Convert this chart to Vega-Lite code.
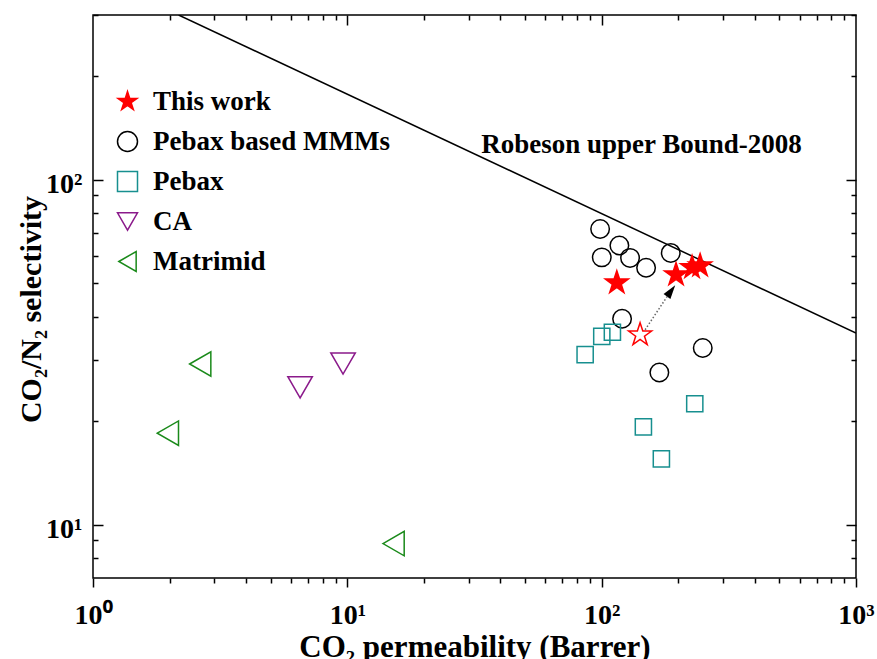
{
  "$schema": "https://vega.github.io/schema/vega-lite/v6.json",
  "width": 763,
  "height": 563,
  "autosize": {"type": "none"},
  "padding": {"left": 93, "top": 15, "right": 21, "bottom": 81},
  "background": "white",
  "config": {
    "view": {"stroke": "black", "strokeWidth": 1.5},
    "font": "Liberation Serif",
    "axis": {
      "domain": false, "grid": false, "tickColor": "black", "tickWidth": 1.5,
      "labelFont": "Liberation Serif", "labelFontWeight": "bold", "labelFontSize": 28, "labelColor": "black",
      "titleFont": "Liberation Serif", "titleFontWeight": "bold", "titleColor": "black"
    },
    "legend": {
      "labelFont": "Liberation Serif", "labelFontWeight": "bold", "labelFontSize": 27, "labelColor": "black", "labelLimit": 0,
      "symbolSize": 400, "symbolStrokeWidth": 1.5, "labelOffset": 12, "rowPadding": 12, "padding": 0
    }
  },
  "datasets": {
    "pts": [
      {"series": "This work", "P": 114.7, "S": 50.2},
      {"series": "This work", "P": 196.1, "S": 53.0},
      {"series": "This work", "P": 226.7, "S": 55.6},
      {"series": "This work", "P": 243.8, "S": 56.3},
      {"series": "Pebax based MMMs", "P": 98.6, "S": 71.9},
      {"series": "Pebax based MMMs", "P": 117.4, "S": 64.4},
      {"series": "Pebax based MMMs", "P": 100.1, "S": 59.5},
      {"series": "Pebax based MMMs", "P": 129.3, "S": 59.3},
      {"series": "Pebax based MMMs", "P": 149.5, "S": 55.5},
      {"series": "Pebax based MMMs", "P": 186.9, "S": 61.3},
      {"series": "Pebax based MMMs", "P": 120.3, "S": 39.5},
      {"series": "Pebax based MMMs", "P": 249.7, "S": 32.5},
      {"series": "Pebax based MMMs", "P": 168.6, "S": 27.6},
      {"series": "Pebax", "P": 86.1, "S": 31.1},
      {"series": "Pebax", "P": 100.1, "S": 35.1},
      {"series": "Pebax", "P": 110.2, "S": 36.1},
      {"series": "Pebax", "P": 232.3, "S": 22.4},
      {"series": "Pebax", "P": 145.9, "S": 19.2},
      {"series": "Pebax", "P": 171.7, "S": 15.5},
      {"series": "CA", "P": 6.52, "S": 25.0},
      {"series": "CA", "P": 9.62, "S": 29.3},
      {"series": "Matrimid", "P": 2.64, "S": 29.2},
      {"series": "Matrimid", "P": 1.97, "S": 18.4},
      {"series": "Matrimid", "P": 15.2, "S": 8.81}
    ],
    "neat": [
      {"P": 141.6, "S": 35.5}
    ],
    "bound": [
      {"P": 2.171, "S": 300},
      {"P": 1000, "S": 35.9}
    ],
    "arrow": [
      {"P": 148.2, "S": 36.7, "P2": 180.8, "S2": 45.8}
    ],
    "head": [
      {"P": 187.5, "S": 47.6}
    ],
    "note": [
      {"P": 143.5, "S": 119.8, "label": "Robeson upper Bound-2008"}
    ]
  },
  "layer": [
    {
      "data": {"name": "bound"},
      "mark": {"type": "line", "color": "black", "strokeWidth": 1.5, "clip": true},
      "encoding": {
        "x": {"field": "P", "type": "quantitative", "scale": {"type": "log", "domain": [1, 1000], "nice": false},
              "axis": {"orient": "bottom", "values": [2,3,4,5,6,7,8,9,20,30,40,50,60,70,80,90,200,300,400,500,600,700,800,900], "tickSize": 5, "labels": false, "title": null}},
        "y": {"field": "S", "type": "quantitative", "scale": {"type": "log", "domain": [7, 300], "nice": false},
              "axis": {"orient": "left", "values": [8,9,20,30,40,50,60,70,80,90,200,300], "tickSize": -5, "labels": false, "title": null}}
      }
    },
    {
      "data": {"name": "arrow"},
      "mark": {"type": "rule", "color": "#666666", "strokeWidth": 1.5, "strokeDash": [1.5, 2]},
      "encoding": {
        "x": {"field": "P", "type": "quantitative", "scale": {"type": "log", "domain": [1, 1000], "nice": false},
              "axis": {"orient": "top", "values": [2,3,4,5,6,7,8,9,20,30,40,50,60,70,80,90,200,300,400,500,600,700,800,900], "tickSize": -5, "labels": false, "title": null}},
        "y": {"field": "S", "type": "quantitative", "scale": {"type": "log", "domain": [7, 300], "nice": false},
              "axis": {"orient": "right", "values": [8,9,20,30,40,50,60,70,80,90,200,300], "tickSize": -5, "labels": false, "title": null}},
        "x2": {"field": "P2"},
        "y2": {"field": "S2"}
      }
    },
    {
      "data": {"name": "head"},
      "mark": {"type": "point", "shape": "M0,-1L0.6,1L-0.6,1Z", "filled": true, "color": "black", "size": 196, "angle": 36, "opacity": 1},
      "encoding": {
        "x": {"field": "P", "type": "quantitative", "scale": {"type": "log", "domain": [1, 1000], "nice": false},
              "axis": {"orient": "top", "values": [10, 100], "tickSize": -10, "labels": false, "title": null}},
        "y": {"field": "S", "type": "quantitative", "scale": {"type": "log", "domain": [7, 300], "nice": false},
              "axis": {"orient": "right", "values": [10, 100], "tickSize": -10, "labels": false, "title": null}}
      }
    },
    {
      "data": {"name": "neat"},
      "mark": {"type": "point", "shape": "M0,-1L0.225,-0.309L0.951,-0.309L0.363,0.118L0.588,0.809L0,0.382L-0.588,0.809L-0.363,0.118L-0.951,-0.309L-0.225,-0.309Z", "filled": false, "color": "#ff0000", "size": 585, "strokeWidth": 1.5, "opacity": 1},
      "encoding": {
        "x": {"field": "P", "type": "quantitative", "scale": {"type": "log", "domain": [1, 1000], "nice": false}, "axis": null},
        "y": {"field": "S", "type": "quantitative", "scale": {"type": "log", "domain": [7, 300], "nice": false}, "axis": null}
      }
    },
    {
      "data": {"name": "pts"},
      "mark": {"type": "point", "strokeWidth": 1.5, "opacity": 1},
      "encoding": {
        "x": {"field": "P", "type": "quantitative", "scale": {"type": "log", "domain": [1, 1000], "nice": false},
              "axis": {"orient": "bottom", "values": [1, 10, 100, 1000], "tickSize": 9, "labelPadding": 36, "labelBaseline": "alphabetic", "labelFlush": false,
                       "labelExpr": "datum.value < 5 ? '10⁰' : datum.value < 50 ? '10¹' : datum.value < 500 ? '10²' : '10³'",
                       "title": "CO₂ permeability (Barrer)", "titleFontSize": 31, "titleX": 381.5, "titleY": 78, "titleBaseline": "alphabetic", "titleAlign": "center"}},
        "y": {"field": "S", "type": "quantitative", "scale": {"type": "log", "domain": [7, 300], "nice": false},
              "axis": {"orient": "left", "values": [10, 100], "tickSize": -10, "labelPadding": 21, "labelBaseline": "alphabetic", "labelOffset": 12.5, "labelFlush": false,
                       "labelExpr": "datum.value < 50 ? '10¹' : '10²'",
                       "title": "CO₂/N₂ selectivity", "titleFontSize": 30, "titleX": -53, "titleY": 294, "titleAngle": -90, "titleBaseline": "alphabetic", "titleAlign": "center"}},
        "shape": {"field": "series", "type": "nominal",
                  "scale": {"domain": ["This work", "Pebax based MMMs", "Pebax", "CA", "Matrimid"],
                            "range": ["M0,-1L0.225,-0.309L0.951,-0.309L0.363,0.118L0.588,0.809L0,0.382L-0.588,0.809L-0.363,0.118L-0.951,-0.309L-0.225,-0.309Z", "circle", "square", "triangle-down", "triangle-left"]},
                  "legend": {"title": null, "orient": "none", "legendX": 21, "legendY": 73}},
        "stroke": {"field": "series", "type": "nominal",
                   "scale": {"domain": ["This work", "Pebax based MMMs", "Pebax", "CA", "Matrimid"],
                             "range": ["#ff0000", "#000000", "#178f8f", "#8b1a8b", "#1a8a1a"]},
                   "legend": {"title": null, "orient": "none", "legendX": 21, "legendY": 73}},
        "fill": {"field": "series", "type": "nominal",
                 "scale": {"domain": ["This work", "Pebax based MMMs", "Pebax", "CA", "Matrimid"],
                           "range": ["#ff0000", "transparent", "transparent", "transparent", "transparent"]},
                 "legend": {"title": null, "orient": "none", "legendX": 21, "legendY": 73}},
        "size": {"field": "series", "type": "nominal",
                 "scale": {"type": "ordinal", "domain": ["Matrimid", "CA", "Pebax", "Pebax based MMMs", "This work"],
                           "range": [600, 600, 262, 342, 585]},
                 "legend": null}
      }
    },
    {
      "data": {"name": "note"},
      "mark": {"type": "text", "font": "Liberation Serif", "fontWeight": "bold", "fontSize": 27, "align": "center", "baseline": "alphabetic", "color": "black"},
      "encoding": {
        "x": {"field": "P", "type": "quantitative", "scale": {"type": "log", "domain": [1, 1000], "nice": false}, "axis": null},
        "y": {"field": "S", "type": "quantitative", "scale": {"type": "log", "domain": [7, 300], "nice": false}, "axis": null},
        "text": {"field": "label"}
      }
    }
  ],
  "resolve": {"axis": {"x": "independent", "y": "independent"}}
}
